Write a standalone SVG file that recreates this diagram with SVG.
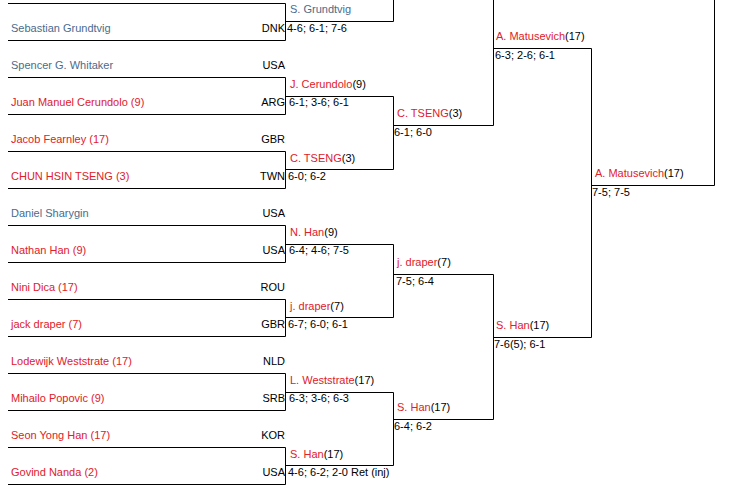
<svg xmlns="http://www.w3.org/2000/svg" width="733" height="496" viewBox="0 0 733 496">
<style>
text{font-family:"Liberation Sans",Arial,sans-serif;font-size:11px;fill:#000}
.r{fill:#e0202a}
.b{fill:#4a6b8c}
.c{text-anchor:end}
.ln{fill:none;stroke:#000;stroke-width:1}
</style>
<rect width="733" height="496" fill="#fff"/>
<g id="connectors" class="ln">
<path d="M8 3.5H285.5V40.5H8"/>
<path d="M8 77.5H285.5V114.5H8"/>
<path d="M8 151.5H285.5V188.5H8"/>
<path d="M8 225.5H285.5V262.5H8"/>
<path d="M8 299.5H285.5V336.5H8"/>
<path d="M8 373.5H285.5V410.5H8"/>
<path d="M8 447.5H285.5V484.5H8"/>
<path d="M285.5 21.5H393.5V-1"/>
<path d="M285.5 96.5H393.5V169.5H285.5"/>
<path d="M285.5 244.5H393.5V317.5H285.5"/>
<path d="M285.5 392.5H393.5V465.5H285.5"/>
<path d="M393.5 125.5H493.5V-1"/>
<path d="M393.5 274.5H493.5V419.5H393.5"/>
<path d="M493.5 48.5H591.5V337.5H493.5"/>
<path d="M591.5 185.5H714.5V-1"/>
</g>
<g id="p1"><text x="11" y="32" class="b">Sebastian Grundtvig</text><text x="285" y="32" class="c">DNK</text></g>
<g id="p2"><text x="11" y="69" class="b">Spencer G. Whitaker</text><text x="285" y="69" class="c">USA</text></g>
<g id="p3"><text x="11" y="106" class="r">Juan Manuel Cerundolo (9)</text><text x="285" y="106" class="c">ARG</text></g>
<g id="p4"><text x="11" y="143" class="r">Jacob Fearnley (17)</text><text x="285" y="143" class="c">GBR</text></g>
<g id="p5"><text x="11" y="180" class="r">CHUN HSIN TSENG (3)</text><text x="285" y="180" class="c">TWN</text></g>
<g id="p6"><text x="11" y="217" class="b">Daniel Sharygin</text><text x="285" y="217" class="c">USA</text></g>
<g id="p7"><text x="11" y="254" class="r">Nathan Han (9)</text><text x="285" y="254" class="c">USA</text></g>
<g id="p8"><text x="11" y="291" class="r">Nini Dica (17)</text><text x="285" y="291" class="c">ROU</text></g>
<g id="p9"><text x="11" y="328" class="r">jack draper (7)</text><text x="285" y="328" class="c">GBR</text></g>
<g id="p10"><text x="11" y="365" class="r">Lodewijk Weststrate (17)</text><text x="285" y="365" class="c">NLD</text></g>
<g id="p11"><text x="11" y="402" class="r">Mihailo Popovic (9)</text><text x="285" y="402" class="c">SRB</text></g>
<g id="p12"><text x="11" y="439" class="r">Seon Yong Han (17)</text><text x="285" y="439" class="c">KOR</text></g>
<g id="p13"><text x="11" y="476" class="r">Govind Nanda (2)</text><text x="285" y="476" class="c">USA</text></g>
<g id="r2a"><text x="290" y="13" class="b">S. Grundtvig</text><text x="287" y="32">4-6; 6-1; 7-6</text></g>
<g id="r2b"><text x="290" y="88"><tspan class="r">J. Cerundolo</tspan>(9)</text><text x="289" y="106">6-1; 3-6; 6-1</text></g>
<g id="r2c"><text x="290" y="161.5"><tspan class="r">C. TSENG</tspan>(3)</text><text x="288" y="180">6-0; 6-2</text></g>
<g id="r2d"><text x="290" y="236"><tspan class="r">N. Han</tspan>(9)</text><text x="289" y="254">6-4; 4-6; 7-5</text></g>
<g id="r2e"><text x="290" y="309.5"><tspan class="r">j. draper</tspan>(7)</text><text x="288" y="328">6-7; 6-0; 6-1</text></g>
<g id="r2f"><text x="290" y="384"><tspan class="r">L. Weststrate</tspan>(17)</text><text x="289" y="402">6-3; 3-6; 6-3</text></g>
<g id="r2g"><text x="290" y="457.5"><tspan class="r">S. Han</tspan>(17)</text><text x="288" y="476">4-6; 6-2; 2-0 Ret (inj)</text></g>
<g id="r3a"><text x="397" y="117"><tspan class="r">C. TSENG</tspan>(3)</text><text x="394" y="136">6-1; 6-0</text></g>
<g id="r3b"><text x="397" y="266"><tspan class="r">j. draper</tspan>(7)</text><text x="396" y="285">7-5; 6-4</text></g>
<g id="r3c"><text x="397" y="411"><tspan class="r">S. Han</tspan>(17)</text><text x="394" y="430">6-4; 6-2</text></g>
<g id="r4a"><text x="496" y="40"><tspan class="r">A. Matusevich</tspan>(17)</text><text x="495" y="59">6-3; 2-6; 6-1</text></g>
<g id="r4b"><text x="496" y="329"><tspan class="r">S. Han</tspan>(17)</text><text x="494" y="348">7-6(5); 6-1</text></g>
<g id="r5"><text x="595" y="177"><tspan class="r">A. Matusevich</tspan>(17)</text><text x="592" y="196">7-5; 7-5</text></g>
</svg>
